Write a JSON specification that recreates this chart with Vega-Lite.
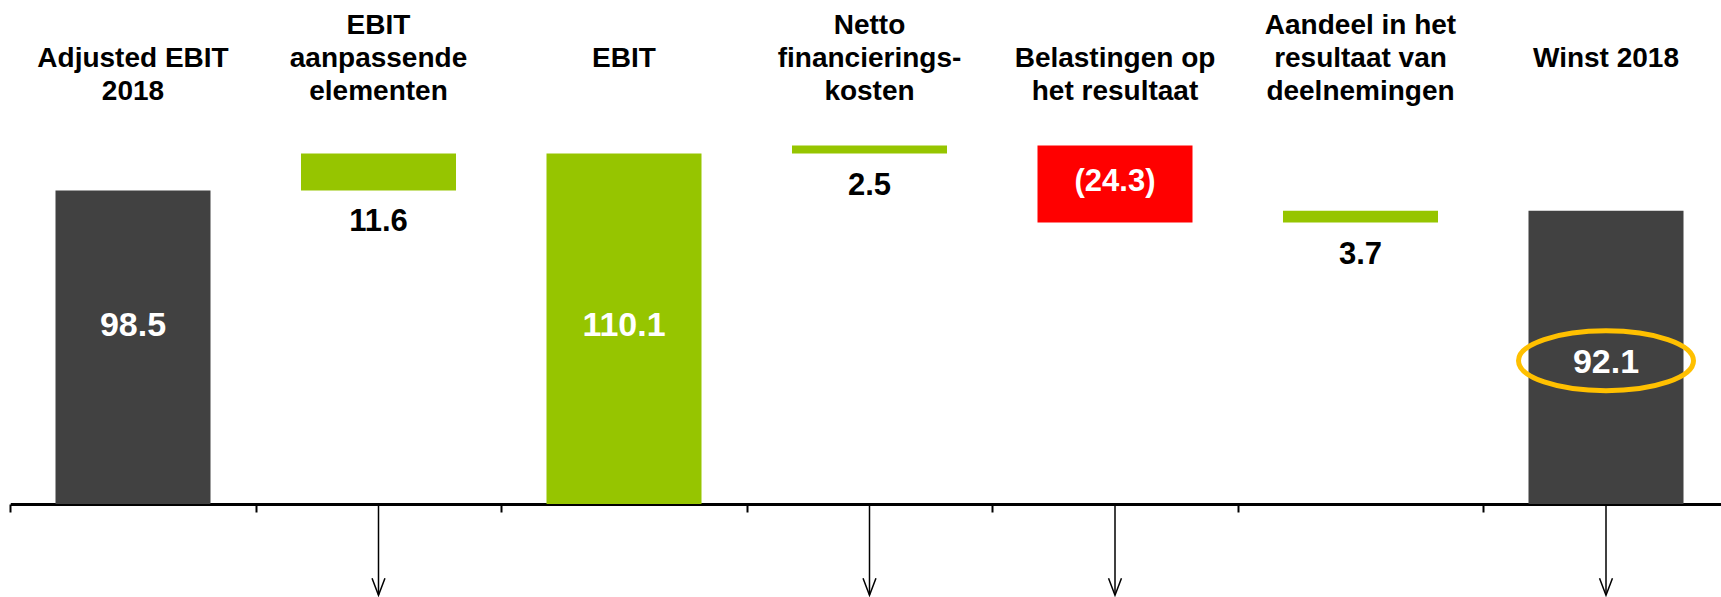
{
  "$schema": "https://vega.github.io/schema/vega-lite/v6.json",
  "width": 1721,
  "height": 382,
  "autosize": {"type": "none"},
  "padding": {"left": 0, "top": 122, "right": 0, "bottom": 93},
  "background": "white",
  "config": {"view": {"stroke": null}, "font": "Liberation Sans"},
  "data": {
    "values": [
      {"category": "Adjusted EBIT 2018", "label": ["", "Adjusted EBIT", "2018"], "start": 0, "end": 98.5, "type": "total", "text": "98.5"},
      {"category": "EBIT aanpassende elementen", "label": ["EBIT", "aanpassende", "elementen"], "start": 98.5, "end": 110.1, "type": "pos", "text": "11.6"},
      {"category": "EBIT", "label": ["", "", "EBIT"], "start": 0, "end": 110.1, "type": "ebit", "text": "110.1"},
      {"category": "Netto financieringskosten", "label": ["Netto", "financierings-", "kosten"], "start": 110.1, "end": 112.6, "type": "pos", "text": "2.5"},
      {"category": "Belastingen op het resultaat", "label": ["", "Belastingen op", "het resultaat"], "start": 112.6, "end": 88.4, "type": "neg", "text": "(24.3)"},
      {"category": "Aandeel in het resultaat van deelnemingen", "label": ["Aandeel in het", "resultaat van", "deelnemingen"], "start": 88.4, "end": 92.1, "type": "pos", "text": "3.7"},
      {"category": "Winst 2018", "label": ["", "", "Winst 2018"], "start": 0, "end": 92.1, "type": "total", "text": "92.1"}
    ]
  },
  "encoding": {
    "x": {
      "field": "category",
      "type": "nominal",
      "sort": null,
      "scale": {
        "domain": ["Adjusted EBIT 2018", "EBIT aanpassende elementen", "EBIT", "Netto financieringskosten", "Belastingen op het resultaat", "Aandeel in het resultaat van deelnemingen", "Winst 2018"],
        "range": [10.25, 1728.75],
        "paddingInner": 0,
        "paddingOuter": 0
      },
      "axis": {
        "orient": "bottom",
        "title": null,
        "labels": false,
        "domainColor": "#000000",
        "domainWidth": 3,
        "tickColor": "#000000",
        "tickWidth": 2,
        "tickSize": 8,
        "tickBand": "extent",
        "grid": false
      }
    }
  },
  "layer": [
    {
      "mark": {"type": "bar", "width": {"band": 0.6314}},
      "encoding": {
        "y": {"field": "start", "type": "quantitative", "scale": {"domain": [0, 120], "nice": false, "zero": true}, "axis": null},
        "y2": {"field": "end"},
        "color": {
          "field": "type",
          "type": "nominal",
          "scale": {"domain": ["total", "ebit", "pos", "neg"], "range": ["#414141", "#96C500", "#96C500", "#FF0000"]},
          "legend": null
        }
      }
    },
    {
      "mark": {"type": "text", "fontSize": 28, "fontWeight": "bold", "baseline": "alphabetic", "align": "center", "lineHeight": 33, "color": "#000000"},
      "encoding": {
        "y": {"datum": 147.7, "type": "quantitative"},
        "text": {"field": "label"}
      }
    },
    {
      "transform": [{"filter": "datum.type === 'pos'"}],
      "mark": {"type": "text", "fontSize": 31, "fontWeight": "bold", "baseline": "alphabetic", "align": "center", "dy": 41, "color": "#000000"},
      "encoding": {
        "y": {"field": "start", "type": "quantitative"},
        "text": {"field": "text"}
      }
    },
    {
      "transform": [{"filter": "datum.type === 'neg'"}],
      "mark": {"type": "text", "fontSize": 31, "fontWeight": "bold", "baseline": "alphabetic", "align": "center", "dy": 45, "color": "#FFFFFF"},
      "encoding": {
        "y": {"field": "start", "type": "quantitative"},
        "text": {"field": "text"}
      }
    },
    {
      "transform": [{"filter": "(datum.type === 'total' || datum.type === 'ebit') && datum.category !== 'Winst 2018'"}],
      "mark": {"type": "text", "fontSize": 34, "fontWeight": "bold", "baseline": "middle", "align": "center", "color": "#FFFFFF"},
      "encoding": {
        "y": {"datum": 55.8, "type": "quantitative"},
        "text": {"field": "text"}
      }
    },
    {
      "transform": [{"filter": "datum.category === 'Winst 2018'"}],
      "mark": {"type": "text", "fontSize": 34, "fontWeight": "bold", "baseline": "middle", "align": "center", "color": "#FFFFFF"},
      "encoding": {
        "y": {"datum": 44.2, "type": "quantitative"},
        "text": {"field": "text"}
      }
    },
    {
      "transform": [{"filter": "datum.category === 'Winst 2018'"}],
      "mark": {
        "type": "point",
        "shape": "M-1,0C-1,-0.1894,-0.5523,-0.343,0,-0.343C0.5523,-0.343,1,-0.1894,1,0C1,0.1894,0.5523,0.343,0,0.343C-0.5523,0.343,-1,0.1894,-1,0Z",
        "size": 30625,
        "filled": false,
        "stroke": "#FFC000",
        "strokeWidth": 5,
        "opacity": 1
      },
      "encoding": {
        "y": {"datum": 45, "type": "quantitative"}
      }
    },
    {
      "transform": [{"filter": {"field": "category", "oneOf": ["EBIT aanpassende elementen", "Netto financieringskosten", "Belastingen op het resultaat", "Winst 2018"]}}],
      "mark": {"type": "rule", "color": "#000000", "strokeWidth": 1.5},
      "encoding": {
        "y": {"datum": 0, "type": "quantitative"},
        "y2": {"datum": -28.5}
      }
    },
    {
      "transform": [{"filter": {"field": "category", "oneOf": ["EBIT aanpassende elementen", "Netto financieringskosten", "Belastingen op het resultaat", "Winst 2018"]}}],
      "mark": {
        "type": "point",
        "shape": "M-0.76,-1L0,1L0.76,-1",
        "size": 289,
        "filled": false,
        "stroke": "#000000",
        "strokeWidth": 1.5,
        "opacity": 1
      },
      "encoding": {
        "y": {"datum": -26, "type": "quantitative"}
      }
    }
  ]
}
